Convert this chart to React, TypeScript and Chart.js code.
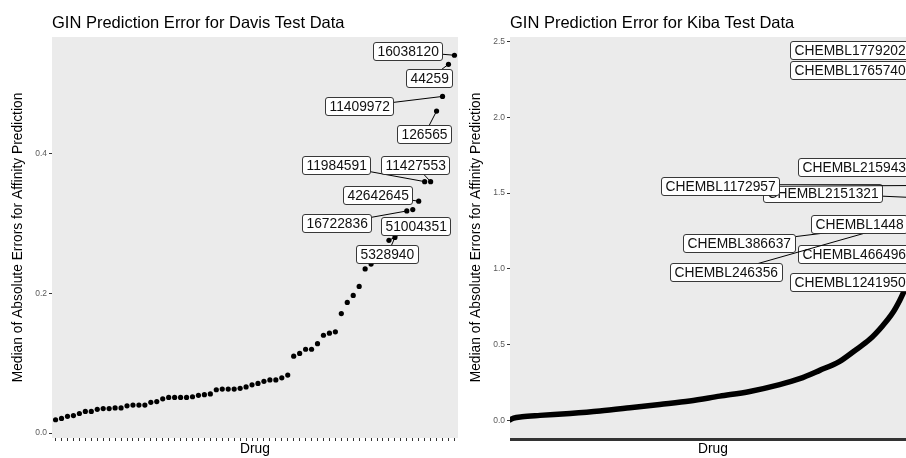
import React, { useEffect, useRef } from 'react';
import { Chart, registerables } from 'chart.js';

Chart.register(...registerables);

const FONT = '"Liberation Sans", Arial, Helvetica, sans-serif';

/* ---------------- data: Davis (drugs sorted by median absolute error) ---------------- */
const davisErrors = [
  0.019, 0.021, 0.024, 0.025, 0.028, 0.031, 0.031, 0.034, 0.035, 0.035,
  0.036, 0.036, 0.039, 0.040, 0.040, 0.040, 0.044, 0.045, 0.049, 0.051,
  0.051, 0.051, 0.051, 0.052, 0.054, 0.055, 0.056, 0.062, 0.063, 0.063,
  0.063, 0.064, 0.066, 0.069, 0.071, 0.074, 0.076, 0.076, 0.079, 0.083,
  0.110, 0.114, 0.120, 0.120, 0.128, 0.140, 0.143, 0.145, 0.171, 0.187,
  0.197, 0.210, 0.235, 0.242, 0.252, 0.262, 0.276, 0.280, 0.300, 0.318,
  0.320, 0.332, 0.360, 0.360, 0.461, 0.482, 0.528, 0.541,
];
const davisLabelDrugs = ['5328940', '16722836', '51004351', '42642645', '11984591', '11427553', '126565', '11409972', '44259', '16038120'];
const davisLabelRanks = [58, 60, 57, 62, 63, 64, 65, 66, 67, 68];

/* ---------------- data: Kiba (drug rank -> median absolute error) ---------------- */
const kibaDrugCount = 2068;
const kibaRanks = [
  1, 19, 62, 153, 306, 458, 611, 763, 916, 1069, 1222, 1374, 1476, 1578, 1680,
  1756, 1833, 1899, 1950, 1985, 2011, 2036, 2058,
  2059, 2060, 2061, 2062, 2063, 2064, 2065, 2066, 2067, 2068,
];
const kibaErrors = [
  0.004, 0.015, 0.024, 0.033, 0.046, 0.062, 0.083, 0.105, 0.128, 0.160, 0.191, 0.236, 0.275, 0.330, 0.390,
  0.460, 0.535, 0.625, 0.710, 0.790, 0.860, 0.920, 0.950,
  0.970, 1.100, 1.250, 1.310, 1.330, 1.470, 1.550, 1.670, 2.290, 2.410,
];
const kibaLabelDrugs = ['CHEMBL1241950', 'CHEMBL466496', 'CHEMBL246356', 'CHEMBL386637', 'CHEMBL1448', 'CHEMBL2151321', 'CHEMBL1172957', 'CHEMBL215943', 'CHEMBL1765740', 'CHEMBL1779202'];
const kibaLabelRanks = [2059, 2060, 2063, 2062, 2061, 2064, 2065, 2066, 2067, 2068];

/* ---------------- repelled label placement (data units: box left rank, box middle value) ---------------- */
const davisBoxRank = [51.5, 42.4, 55.7, 49.3, 42.4, 55.7, 58.4, 46.3, 59.9, 54.3];
const davisBoxValue = [0.257, 0.301, 0.297, 0.341, 0.384, 0.384, 0.428, 0.469, 0.509, 0.547];
const kibaBoxRank = [1425, 1466, 814, 881, 1535, 1288, 772, 1466, 1425, 1425];
const kibaBoxValue = [0.912, 1.1, 0.978, 1.169, 1.297, 1.5, 1.545, 1.67, 2.315, 2.443];

/* ---------------- styling ---------------- */
const PANEL_BG = '#EBEBEB';
const LABEL_FONT = 13.8;
const PAD_X = 4;
const BOX_H = 18;
const MIN_SEG = 6;

type Lbl = { text: string; px: number; py: number; bx: number; by: number };

function roundRectPath(ctx: CanvasRenderingContext2D, x: number, y: number, w: number, h: number, r: number) {
  ctx.beginPath();
  ctx.moveTo(x + r, y);
  ctx.lineTo(x + w - r, y);
  ctx.arcTo(x + w, y, x + w, y + r, r);
  ctx.lineTo(x + w, y + h - r);
  ctx.arcTo(x + w, y + h, x + w - r, y + h, r);
  ctx.lineTo(x + r, y + h);
  ctx.arcTo(x, y + h, x, y + h - r, r);
  ctx.lineTo(x, y + r);
  ctx.arcTo(x, y, x + r, y, r);
  ctx.closePath();
}

function repelPlugin(labels: Lbl[]) {
  return {
    id: 'repelLabels',
    afterDatasetsDraw(chart: any) {
      const { ctx } = chart;
      const xs = chart.scales.x;
      const ys = chart.scales.y;
      ctx.save();
      ctx.font = `${LABEL_FONT}px ${FONT}`;
      ctx.textBaseline = 'middle';
      ctx.textAlign = 'left';
      for (const l of labels) {
        const ptX = xs.getPixelForValue(l.px);
        const ptY = ys.getPixelForValue(l.py);
        const left = Math.round(xs.getPixelForValue(l.bx)) + 0.5;
        const cy = ys.getPixelForValue(l.by);
        const top = Math.round(cy - BOX_H / 2) + 0.5;
        const w = Math.round(ctx.measureText(l.text).width + 2 * PAD_X);
        const h = BOX_H;
        const cx = left + w / 2;
        const ccy = top + h / 2;
        const dx = ptX - cx;
        const dy = ptY - ccy;
        let t = Infinity;
        if (dx !== 0) t = Math.min(t, (w / 2) / Math.abs(dx));
        if (dy !== 0) t = Math.min(t, (h / 2) / Math.abs(dy));
        if (t < 1) {
          const ex = cx + dx * t;
          const ey = ccy + dy * t;
          if (Math.hypot(ptX - ex, ptY - ey) > MIN_SEG) {
            ctx.beginPath();
            ctx.moveTo(ex, ey);
            ctx.lineTo(ptX, ptY);
            ctx.strokeStyle = '#000';
            ctx.lineWidth = 1;
            ctx.stroke();
          }
        }
        roundRectPath(ctx, left, top, w, h, 2.5);
        ctx.fillStyle = '#fff';
        ctx.fill();
        ctx.strokeStyle = '#222';
        ctx.lineWidth = 0.9;
        ctx.stroke();
        ctx.fillStyle = '#111';
        ctx.fillText(l.text, left + PAD_X, ccy + 0.5);
      }
      ctx.restore();
    },
  };
}

function panelPlugin(title: string) {
  return {
    id: 'panelDeco',
    beforeDraw(chart: any) {
      const { ctx, chartArea } = chart;
      ctx.save();
      ctx.fillStyle = PANEL_BG;
      ctx.fillRect(chartArea.left, chartArea.top, chartArea.right - chartArea.left, chartArea.bottom - chartArea.top);
      ctx.restore();
    },
    afterDraw(chart: any) {
      const { ctx, chartArea } = chart;
      ctx.save();
      ctx.font = `16.5px ${FONT}`;
      ctx.fillStyle = '#000';
      ctx.textAlign = 'left';
      ctx.textBaseline = 'alphabetic';
      ctx.fillText(title, chartArea.left, chartArea.top - 9.5);
      ctx.restore();
    },
  };
}

function expandRange(vals: number[]) {
  const lo = Math.min(...vals);
  const hi = Math.max(...vals);
  const r = hi - lo;
  return [lo - 0.05 * r, hi + 0.05 * r];
}

function baseOptions(n: number, yVals: number[], yStep: number, xStep: number) {
  const [ymin, ymax] = expandRange(yVals);
  return {
    responsive: false,
    animation: false as const,
    events: [] as any[],
    layout: { autoPadding: false, padding: { top: 37, left: 0, right: 0, bottom: 0 } },
    plugins: { legend: { display: false }, tooltip: { enabled: false }, title: { display: false } },
    scales: {
      x: {
        type: 'linear' as const,
        min: 1 - 0.6,
        max: n + 0.6,
        border: { display: false },
        grid: { display: true, drawOnChartArea: false, drawTicks: true, tickLength: 3, tickColor: '#333333', tickWidth: 1 },
        ticks: { display: false, stepSize: xStep, includeBounds: false },
        title: {
          display: true,
          text: 'Drug',
          color: '#000',
          font: { family: FONT, size: 13.8 },
          padding: { top: 0, bottom: 0.5 },
        },
        afterFit(scale: any) { scale.height = 20; },
      },
      y: {
        type: 'linear' as const,
        min: ymin,
        max: ymax,
        border: { display: false },
        grid: { display: true, drawOnChartArea: false, drawTicks: true, tickLength: 3, tickColor: '#333333', tickWidth: 1 },
        ticks: {
          stepSize: yStep,
          includeBounds: false,
          padding: 2,
          color: '#5a5a5a',
          font: { family: FONT, size: 8.5 },
          callback: (v: any) => Number(v).toFixed(1),
        },
        title: {
          display: true,
          text: 'Median of Absolute Errors for Affinity Prediction',
          color: '#000',
          font: { family: FONT, size: 13.8 },
          padding: { top: 10, bottom: 0 },
        },
        afterFit(scale: any) { scale.width = 52; },
      },
    },
  };
}

function davisConfig(): any {
  const labels: Lbl[] = davisLabelDrugs.map((d, i) => ({
    text: d,
    px: davisLabelRanks[i],
    py: davisErrors[davisLabelRanks[i] - 1],
    bx: davisBoxRank[i],
    by: davisBoxValue[i],
  }));
  return {
    type: 'scatter',
    data: {
      datasets: [{
        data: davisErrors.map((v, i) => ({ x: i + 1, y: v })),
        backgroundColor: '#000',
        borderWidth: 0,
        pointRadius: 2.6,
      }],
    },
    options: baseOptions(davisErrors.length, davisErrors, 0.2, 1),
    plugins: [panelPlugin('GIN Prediction Error for Davis Test Data'), repelPlugin(labels)],
  };
}

function kibaConfig(): any {
  const labels: Lbl[] = kibaLabelDrugs.map((d, i) => ({
    text: d,
    px: kibaLabelRanks[i],
    py: kibaErrors[kibaRanks.indexOf(kibaLabelRanks[i])],
    bx: kibaBoxRank[i],
    by: kibaBoxValue[i],
  }));
  return {
    type: 'scatter',
    data: {
      datasets: [{
        data: kibaRanks.map((r, i) => ({ x: r, y: kibaErrors[i] })),
        showLine: true,
        borderColor: '#000',
        borderWidth: 5.5,
        borderCapStyle: 'round',
        borderJoinStyle: 'round',
        cubicInterpolationMode: 'monotone',
        pointRadius: 0,
      }],
    },
    options: baseOptions(kibaDrugCount, kibaErrors, 0.5, 3),
    plugins: [panelPlugin('GIN Prediction Error for Kiba Test Data'), repelPlugin(labels)],
  };
}

function Panel({ left, make }: { left: number; make: () => any }) {
  const ref = useRef<HTMLCanvasElement>(null);
  useEffect(() => {
    const chart = new Chart(ref.current as HTMLCanvasElement, make());
    return () => chart.destroy();
  }, []);
  return (
    <div style={{ position: 'absolute', left, top: 0, width: 458, height: 458 }}>
      <canvas ref={ref} width={458} height={458} style={{ width: 458, height: 458, display: 'block' }} />
    </div>
  );
}

export default function App() {
  return (
    <div style={{ position: 'fixed', left: 0, top: 0, width: 906, height: 458, overflow: 'hidden', background: '#fff' }}>
      <Panel left={0} make={davisConfig} />
      <Panel left={458} make={kibaConfig} />
    </div>
  );
}
